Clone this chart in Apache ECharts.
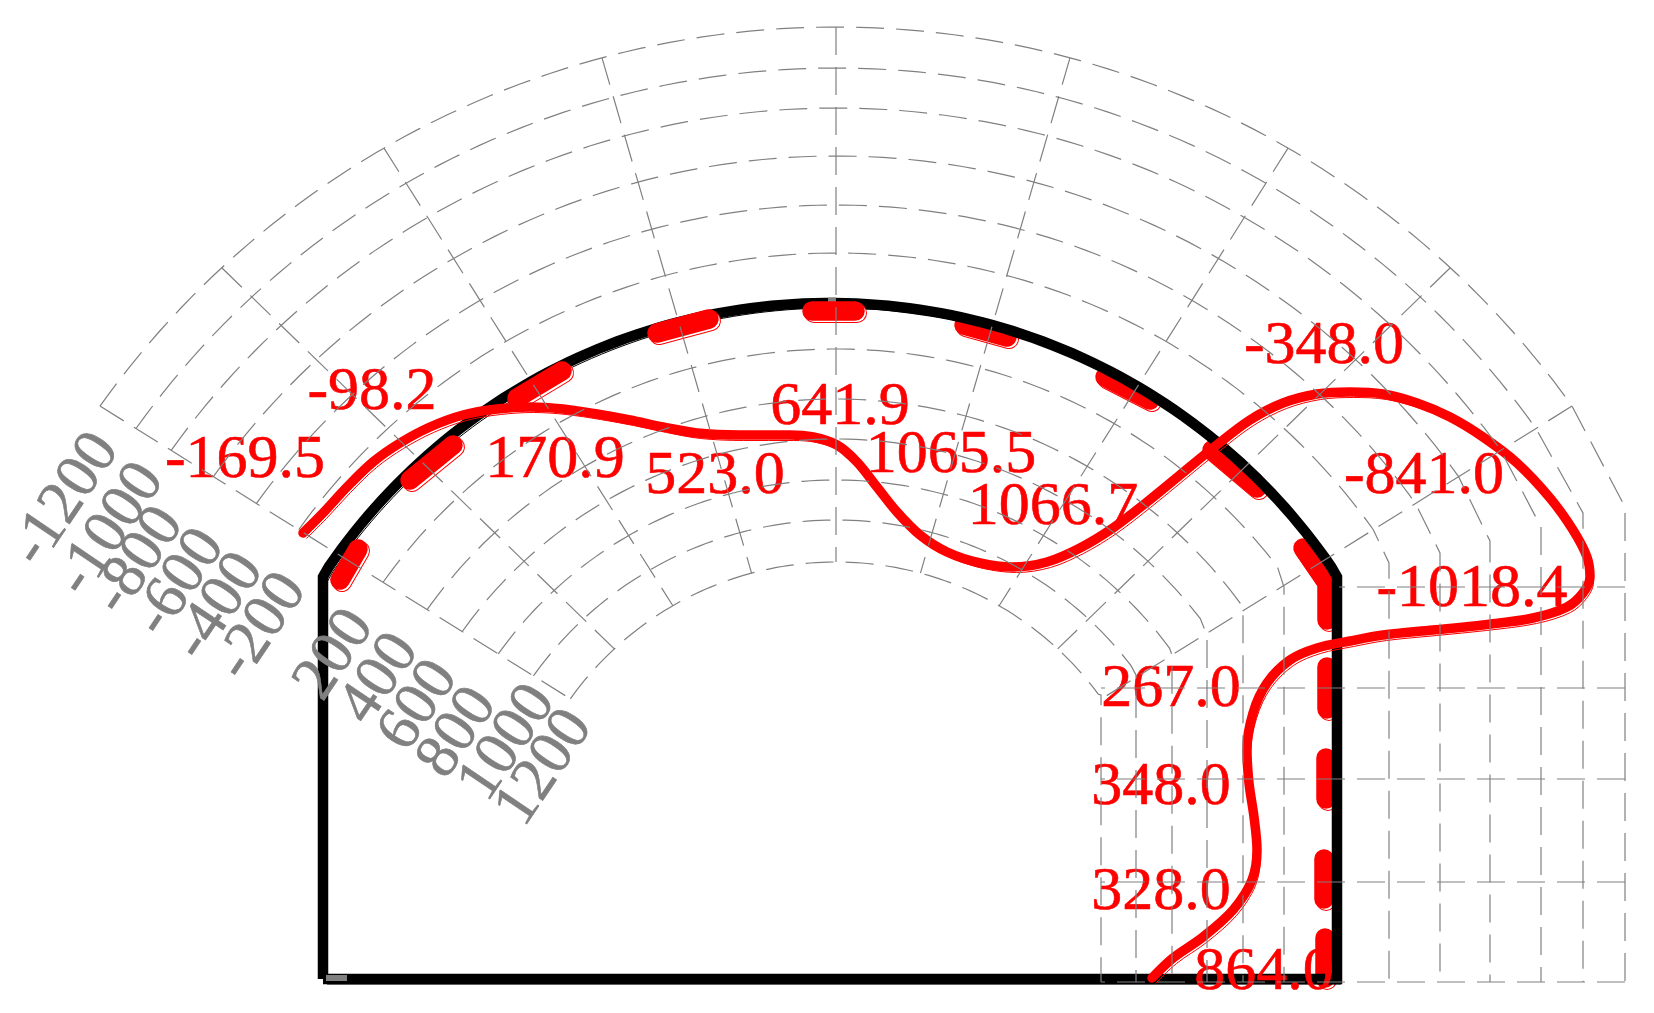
<!DOCTYPE html>
<html>
<head>
<meta charset="utf-8">
<style>html,body{margin:0;padding:0;background:#fff}#c{width:1654px;height:1013px}</style>
<script src="https://cdn.jsdelivr.net/npm/echarts@6/dist/echarts.min.js"></script>
</head>
<body>
<div id="c"></div>
<script>
// Scale ticks of the section diagram (-1200 ... 1200, 0 = lining)
var tickValues = [-1200,-1000,-800,-600,-400,-200,0,200,400,600,800,1000,1200];
// Distance of each tick from the lining, read along the arch and along the wall
var tickArchOffset = [276,235,195,147,98,50,0,-46,-96,-136,-177,-217,-259];
var tickWallOffset = [286,244,202,151,101,50,0,-55,-96,-132,-167,-203,-238];
// Height where each tick line leaves the arch and runs down the wall
var tickWallStart = [507,513,527,541,553,563,577,587,612,635,655,675,695];
// Section stations: angle from the crown on the arch, height on the wall
var stationAngles = [-54.5,-42.8,-30,-15,0,15,30,42.8,54.5];
var stationHeights = [587,688,779,882,982];
// Section geometry
var gridCentreX = 836, gridCentreY = 909, gridRadius = 606, gridCentreDrift = 0.08, wallX = 1339;
var liningCentreX = 830, liningCentreY = 911, liningRadius = 608;
var liningLeft = 323, liningRight = 1337, liningBottom = 979, springY = 577;

// Moment curve, section coordinates
var curveX = [303,323,347,373,400,430,463,497,530,563,597,630,663,697,740,790,813,837,857,877,897,920,947,980,1013,1047,1080,1113,1147,1180,1213,1250,1283,1317,1350,1383,1417,1450,1483,1517,1550,1573,1587,1590,1583,1567,1533,1483,1433,1383,1350,1317,1290,1267,1253,1247,1249,1254,1257,1252,1233,1203,1173,1152];
var curveY = [533,513,487,462,443,427,415,409,407,409,414,420,427,433,435,435,437,445,462,487,512,535,552,563,567,562,548,528,502,475,448,420,403,394,392,394,403,417,437,463,498,530,557,577,593,607,618,625,630,635,641,648,660,683,713,750,783,817,850,880,910,937,958,978];

// Short thick strokes on the lining: [x1,y1,x2,y2,...]
var stubsOverLining = [[340,580,358,549],[410,480,453,445],[517,398,562,371],[657,333,709,319],[812,311,855,311]];
var stubsUnderLining = [[964,325,1007,337],[1105,377,1150,400],[1212,450,1257,488],[1303,548,1327,583,1327,620],[1327,667,1327,709],[1326,758,1326,799],[1324,859,1324,899],[1325,938,1325,978]];

// Value labels
var valueTexts = ['-169.5','-98.2','170.9','523.0','641.9','1065.5','1066.7','-348.0','-841.0','-1018.4','267.0','348.0','328.0','864.0'];
var valueLabelX = [245,372,555,715,840,951,1053,1324,1424,1472,1171,1161,1161,1264];
var valueLabelY = [461,393,461,477,408,456,508,347,477,590,690,788,893,973];
// Tick labels along the left edge (tick 0 has none)
var tickTexts = ['-1200','-1000','-800','-600','-400','-200','200','400','600','800','1000','1200'];
var tickLabelX = [66,111,139,180,219,262,335,380,419,458,508,545];
var tickLabelY = [500,530,561,583,607,627,655,679,706,733,743,768];

var GRAY = '#808080', RED = '#ff0000', GRID_Z = 9;
function rad(d){return d*Math.PI/180;}
function onCircle(cx,cy,r,a){return [cx+r*Math.sin(rad(a)), cy-r*Math.cos(rad(a))];}
function line(data,opt){
  opt = opt||{};
  return {type:'line',data:data,showSymbol:false,symbol:'none',silent:true,animation:false,smooth:opt.smooth||false,z:opt.z||1,
    lineStyle:{color:opt.color||GRAY,width:opt.width||1,type:opt.dash||'solid',cap:opt.cap||'butt',join:opt.join||'miter'}};
}
function gridPoint(off,a){
  return onCircle(gridCentreX,gridCentreY+gridCentreDrift*off,gridRadius+off*(1+gridCentreDrift),a);
}
var series = [];
var dash = [28,12], gridWidth = 1.2;
var lastStation = stationAngles[stationAngles.length-1];
var bottomStation = stationHeights[stationHeights.length-1];

// offset lines: arch then wall
tickValues.forEach(function(v,i){
  var off = tickArchOffset[i], kx = wallX+tickWallOffset[i], pts = [];
  for(var a=stationAngles[0]; a<=lastStation; a+=1){
    var p = gridPoint(off,a);
    if(p[0] < kx-2){pts.push(p);}
  }
  pts.push([kx,tickWallStart[i]]);
  pts.push([kx,bottomStation]);
  if(v!==0){series.push(line(pts,{dash:dash,width:gridWidth,z:GRID_Z}));}
});
// radial lines at arch stations
stationAngles.forEach(function(a){
  var n = tickArchOffset.length-1;
  series.push(line([gridPoint(tickArchOffset[0],a),gridPoint(tickArchOffset[n],a)],{dash:dash,width:gridWidth,z:GRID_Z}));
});
// horizontal lines at wall stations
stationHeights.forEach(function(h,i){
  var startX = i===0 ? wallX : wallX+tickWallOffset[tickWallOffset.length-1];
  series.push(line([[wallX+tickWallOffset[0],h],[startX,h]],{dash:dash,width:gridWidth,z:GRID_Z}));
});

// lining and stubs; each stroke has a thin shifted edge
function stubSeries(list,z){
  list.forEach(function(s){
    var pts=[],edge=[];
    for(var i=0;i<s.length;i+=2){pts.push([s[i],s[i+1]]);edge.push([s[i]+2,s[i+1]+2]);}
    series.push(line(edge,{color:RED,width:20,cap:'round',join:'round',z:z-0.2}));
    series.push(line(edge,{color:'#fff',width:18,cap:'round',join:'round',z:z-0.1}));
    series.push(line(pts,{color:RED,width:19.5,cap:'round',join:'round',z:z}));
  });
}
stubSeries(stubsUnderLining,3);
var liningPts = [[liningLeft,liningBottom],[liningLeft,springY]];
var a0 = Math.asin((liningRight-liningCentreX)/liningRadius)*180/Math.PI;
for(var a=-a0; a<=a0; a+=1){liningPts.push(onCircle(liningCentreX,liningCentreY,liningRadius,a));}
liningPts.push([liningRight,springY],[liningRight,liningBottom],[liningLeft,liningBottom]);
series.push(line(liningPts.map(function(p){return [p[0]+4,p[1]+5];}),{color:'#000',width:1,z:3.5}));
series.push(line(liningPts,{color:'#000',width:10.5,z:4}));
series.push(line([[liningLeft+3,liningBottom-1],[liningLeft+24,liningBottom-1]],{color:GRAY,width:6,z:5}));
series.push(line([[gridCentreX-8,301],[gridCentreX+0,301]],{color:GRAY,width:7,z:5}));
stubSeries(stubsOverLining,6);

// curve with thin shifted edge
var curvePts = curveX.map(function(x,i){return [x,curveY[i]];});
series.push(line(curvePts.map(function(p){return [p[0]+3.5,p[1]+5.5];}),{color:RED,width:1,join:'round',smooth:0.33,z:6.9}));
series.push(line(curvePts,{color:RED,width:9.5,cap:'round',join:'round',smooth:0.33,z:7}));

// labels
function labels(xs,ys,texts,style){
  return {type:'scatter',silent:true,animation:false,symbol:'circle',symbolSize:1,itemStyle:{color:'transparent',opacity:1},z:8,
    data:xs.map(function(x,i){return [x,ys[i],texts[i]];}),
    labelLayout:{hideOverlap:false},
    label:Object.assign({show:true,position:'inside',align:'center',verticalAlign:'middle',fontFamily:'"Liberation Serif"',fontSize:62,opacity:1,
      textBorderWidth:0.6,textBorderColor:style.color,
      formatter:function(p){return p.data[2];}},style)};
}
series.push(labels(tickLabelX,tickLabelY,tickTexts,{color:GRAY,rotate:56}));
series.push(labels(valueLabelX,valueLabelY,valueTexts,{color:RED}));

var chart = echarts.init(document.getElementById('c'),null,{renderer:'canvas'});
chart.setOption({
  backgroundColor:'#fff',animation:false,
  grid:{left:0,right:0,top:0,bottom:0,containLabel:false},
  xAxis:{type:'value',min:0,max:1654,show:false},
  yAxis:{type:'value',min:0,max:1013,inverse:true,show:false},
  tooltip:{show:false},legend:{show:false},
  series:series
});
</script>
</body>
</html>
